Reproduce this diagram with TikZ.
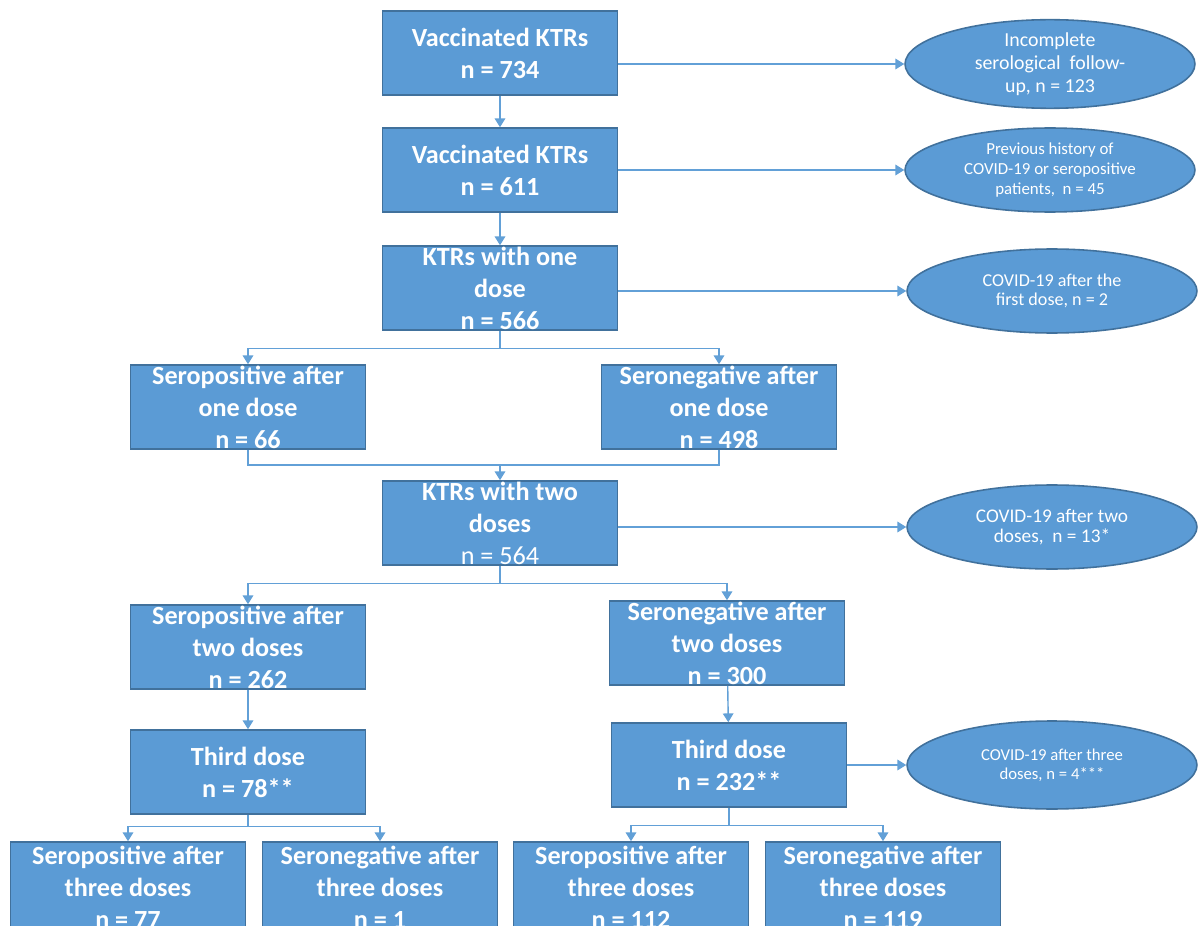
\documentclass[tikz,border=0pt]{standalone}
\usepackage{fontspec}
\setmainfont{Carlito}
\usepackage{xcolor}
\usepackage{tikz}
\usetikzlibrary{arrows.meta,shapes.geometric}
\definecolor{AzulCaja}{RGB}{91,155,213}
\definecolor{AzulBorde}{RGB}{65,113,156}
\definecolor{AzulLinea}{RGB}{98,160,215}

\tikzset{
  caja/.style={draw=AzulBorde,line width=0.9pt,fill=AzulCaja,text=white,
    minimum width=4.7cm,minimum height=1.68cm,inner sep=0pt,align=center,
    font=\fontsize{14.9}{18.2}\selectfont\bfseries},
  ovalo/.style={ellipse,draw=AzulBorde,line width=0.9pt,fill=AzulCaja,text=white,
    minimum width=5.8cm,minimum height=1.68cm,inner sep=0pt,align=center},
  linea/.style={draw=AzulLinea,line width=0.8pt},
  flecha/.style={linea,-{Triangle[length=5pt,width=6pt]}}
}

\begin{document}
\begin{tikzpicture}[x=0.02cm,y=-0.02cm]
  \useasboundingbox (0,0) rectangle (1198,926);
  \fill[white] (0,0) rectangle (1198,926);
  % main column
  \node[caja] (v734) at (500,53) {Vaccinated KTRs\\n = 734};
  \node[caja] (v611) at (500,170) {Vaccinated KTRs\\n = 611};
  \node[caja] (one) at (500,288) {KTRs with one\\dose\\n = 566};
  \node[caja] (pos1) at (248,407) {Seropositive after\\one dose\\n = 66};
  \node[caja] (neg1) at (719,407) {Seronegative after\\one dose\\n = 498};
  \node[caja] (two) at (500,523) {KTRs with two\\doses\\{\mdseries n = 564}};
  \node[caja] (pos2) at (248,647) {Seropositive after\\two doses\\n = 262};
  \node[caja] (neg2) at (727,643) {Seronegative after\\two doses\\n = 300};
  \node[caja] (third78) at (248,772) {Third dose\\n = 78**};
  \node[caja] (third232) at (729,765) {Third dose\\n = 232**};
  \node[caja,minimum height=1.8cm] (pos3a) at (128,887) {Seropositive after\\three doses\\n = 77};
  \node[caja,minimum height=1.8cm] (neg3a) at (380,887) {Seronegative after\\three doses\\n = 1};
  \node[caja,minimum height=1.8cm] (pos3b) at (631,887) {Seropositive after\\three doses\\n = 112};
  \node[caja,minimum height=1.8cm] (neg3b) at (883,887) {Seronegative after\\three doses\\n = 119};
  % exclusions
  \node[ovalo,font=\fontsize{11.3}{13}\selectfont] (exc1) at (1050,64) {Incomplete\\serological\ \ follow-\\up, n = 123};
  \node[ovalo,font=\fontsize{9.6}{11.6}\selectfont] (exc2) at (1050,170) {Previous history of\\COVID-19 or seropositive\\patients,\ \ n = 45};
  \node[ovalo,font=\fontsize{10.3}{11}\selectfont] (exc3) at (1052,291) {COVID-19 after the\\first dose, n = 2};
  \node[ovalo,font=\fontsize{11}{11.4}\selectfont] (exc4) at (1052,527) {COVID-19 after two\\doses,\ \ n = 13*};
  \node[ovalo,font=\fontsize{9.5}{11}\selectfont,minimum height=1.76cm] (exc5) at (1052,765) {COVID-19 after three\\doses, n = 4***};
  % connectors
  \draw[flecha] (v734) -- (v611);
  \draw[flecha] (v611) -- (one);
  \draw[flecha] (v734.east |- exc1.west) -- (exc1.west);
  \draw[flecha] (v611.east |- exc2.west) -- (exc2.west);
  \draw[flecha] (one.east |- exc3.west) -- (exc3.west);
  \draw[flecha] (two.east |- exc4.west) -- (exc4.west);
  \draw[flecha] (third232.east |- exc5.west) -- (exc5.west);
  \draw[linea] (one.south) -- ++(0,18) coordinate (r1);
  \draw[flecha] (r1) -| (pos1.north);
  \draw[flecha] (r1) -| (neg1.north);
  \coordinate (m1) at (500,465);
  \draw[linea] (pos1.south) |- (m1) -| (neg1.south);
  \draw[flecha] (m1) -- (two.north);
  \draw[linea] (two.south) -- ++(0,18) coordinate (r2);
  \draw[flecha] (r2) -| (pos2.north);
  \draw[flecha] (r2) -| (neg2.north);
  \draw[flecha] (pos2) -- (third78);
  \draw[flecha] (neg2) -- (third232);
  \draw[linea] (third78.south) -- ++(0,12) coordinate (r3);
  \draw[flecha] (r3) -| (pos3a.north);
  \draw[flecha] (r3) -| (neg3a.north);
  \draw[linea] (third232.south) -- ++(0,18) coordinate (r4);
  \draw[flecha] (r4) -| (pos3b.north);
  \draw[flecha] (r4) -| (neg3b.north);
\end{tikzpicture}
\end{document}
